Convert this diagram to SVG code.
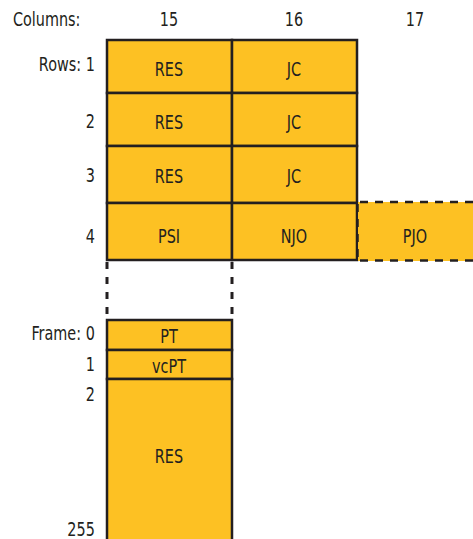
<svg xmlns="http://www.w3.org/2000/svg" width="473" height="539" viewBox="0 0 473 539">
  <style>
    text { font-family: "DejaVu Sans Condensed", "Liberation Sans Narrow", "Liberation Sans", sans-serif; font-size: 20px; fill: #231f20; }
    .c { text-anchor: middle; }
    .r { text-anchor: end; }
    .cell { fill: #fdc123; stroke: #231f20; stroke-width: 2.5; }
    .dash { fill: none; stroke: #231f20; stroke-width: 2.5; stroke-dasharray: 8 7; }
    .vdash { fill: none; stroke: #231f20; stroke-width: 3; stroke-dasharray: 7 8; }
  </style>

  <!-- all text is drawn narrowed: x values are pre-divided by 0.8 -->
  <g id="labels" transform="scale(0.8 1)">
    <text x="16.25" y="26">Columns:</text>
    <text class="c" x="211.25" y="26">15</text>
    <text class="c" x="367.5" y="26">16</text>
    <text class="c" x="518.75" y="26">17</text>
    <text class="r" x="118.5" y="71">Rows: 1</text>
    <text class="r" x="118.5" y="128">2</text>
    <text class="r" x="118.5" y="182">3</text>
    <text class="r" x="118.5" y="243">4</text>
    <text class="r" x="118.5" y="340">Frame: 0</text>
    <text class="r" x="118.5" y="371">1</text>
    <text class="r" x="118.5" y="401">2</text>
    <text class="r" x="118.5" y="536">255</text>
  </g>

  <!-- row 1 -->
  <g id="r1c15"><rect class="cell" x="107" y="40" width="125" height="53"/><text transform="scale(0.8 1)" class="c" x="211.25" y="76">RES</text></g>
  <g id="r1c16"><rect class="cell" x="232" y="40" width="125" height="53"/><text transform="scale(0.8 1)" class="c" x="367.5" y="76">JC</text></g>
  <!-- row 2 -->
  <g id="r2c15"><rect class="cell" x="107" y="93" width="125" height="53"/><text transform="scale(0.8 1)" class="c" x="211.25" y="129">RES</text></g>
  <g id="r2c16"><rect class="cell" x="232" y="93" width="125" height="53"/><text transform="scale(0.8 1)" class="c" x="367.5" y="129">JC</text></g>
  <!-- row 3 -->
  <g id="r3c15"><rect class="cell" x="107" y="146" width="125" height="57"/><text transform="scale(0.8 1)" class="c" x="211.25" y="183">RES</text></g>
  <g id="r3c16"><rect class="cell" x="232" y="146" width="125" height="57"/><text transform="scale(0.8 1)" class="c" x="367.5" y="183">JC</text></g>
  <!-- row 4 -->
  <g id="r4c15"><rect class="cell" x="107" y="203" width="125" height="57"/><text transform="scale(0.8 1)" class="c" x="211.25" y="243">PSI</text></g>
  <g id="r4c16"><rect class="cell" x="232" y="203" width="125" height="57"/><text transform="scale(0.8 1)" class="c" x="367.5" y="243">NJO</text></g>
  <g id="r4c17">
    <rect x="358" y="202" width="115" height="59" fill="#fdc123"/>
    <path class="dash" d="M360 202 H473 M360 260.5 H473 M357.5 204 V260"/>
    <text transform="scale(0.8 1)" class="c" x="518.75" y="243">PJO</text>
  </g>

  <!-- frames -->
  <g id="frame0"><rect class="cell" x="107" y="320" width="125" height="30"/><text transform="scale(0.8 1)" class="c" x="211.25" y="343">PT</text></g>
  <g id="frame1"><rect class="cell" x="107" y="350" width="125" height="29"/><text transform="scale(0.8 1)" class="c" x="211.25" y="373">vcPT</text></g>
  <g id="frame2"><rect class="cell" x="107" y="379" width="125" height="170"/><text transform="scale(0.8 1)" class="c" x="211.25" y="463">RES</text></g>

  <!-- expansion guides from cell PSI down to its frames -->
  <g id="connectors">
    <path class="vdash" d="M107 262 V320 M232 262 V320"/>
  </g>
</svg>
